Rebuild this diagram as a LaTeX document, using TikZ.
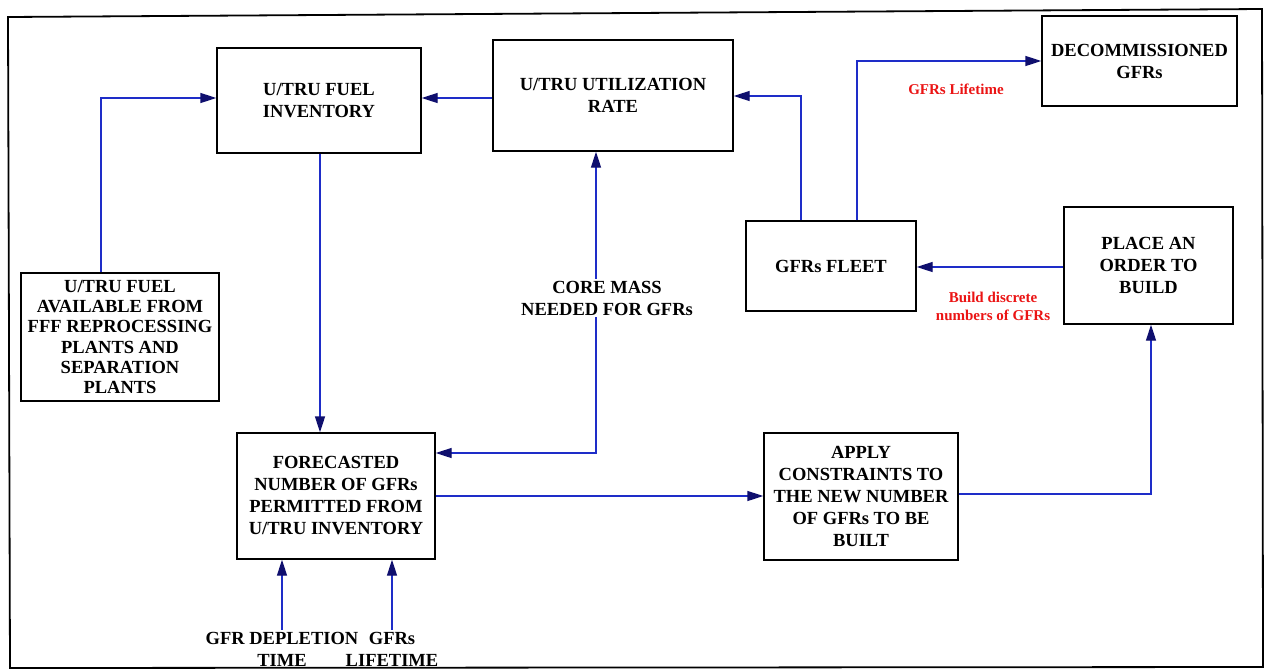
\documentclass[tikz,border=0pt]{standalone}
\usepackage{fontspec}
\setmainfont{Liberation Serif}
\usetikzlibrary{arrows.meta,calc}
\definecolor{lineblue}{RGB}{30,45,200}
\definecolor{headnavy}{RGB}{15,15,110}
\definecolor{lblred}{RGB}{235,20,20}
\begin{document}
\begin{tikzpicture}[x=1pt,y=-1pt,
  box/.style={draw=black,line width=1.4pt,fill=white,inner sep=2pt,align=center,
    font=\bfseries\fontsize{18.5}{22}\selectfont},
  lbl/.style={inner sep=2pt,align=center,font=\bfseries\fontsize{18.5}{22}\selectfont},
  redlbl/.style={inner sep=1pt,align=center,text=lblred,font=\bfseries\fontsize{15}{18}\selectfont},
  arr/.style={draw=lineblue,line width=1.4pt,-{Triangle[length=16pt,width=10pt,color=headnavy]}},
  ln/.style={draw=lineblue,line width=1.4pt}]
\useasboundingbox (0,0) rectangle (1265,670);
\fill[white] (0,0) rectangle (1265,670);
% outer frame (slightly skewed like the scan)
\draw[line width=1.8pt,black] (8,17) -- (1262,9) -- (1263,667) -- (10,668) -- cycle;

% boxes
\node[box,minimum width=204pt,minimum height=105pt] (inv) at (319,100.5) {U/TRU FUEL\\INVENTORY};
\node[box,minimum width=240pt,minimum height=111pt] (util) at (613,95.5) {U/TRU UTILIZATION\\RATE};
\node[box,minimum width=195pt,minimum height=90pt] (decom) at (1139.5,61) {DECOMMISSIONED\\GFRs};
\node[box,minimum width=170pt,minimum height=90pt] (fleet) at (831,266) {GFRs FLEET};
\node[box,minimum width=169pt,minimum height=117pt] (place) at (1148.5,265.5) {PLACE AN\\ORDER TO\\BUILD};
\node[box,minimum width=198pt,minimum height=128pt,font=\bfseries\fontsize{18.5}{20.3}\selectfont] (avail) at (120,337)
  {U/TRU FUEL\\AVAILABLE FROM\\FFF REPROCESSING\\PLANTS AND\\SEPARATION\\PLANTS};
\node[box,minimum width=198pt,minimum height=126pt] (fore) at (336,496)
  {FORECASTED\\NUMBER OF GFRs\\PERMITTED FROM\\U/TRU INVENTORY};
\node[box,minimum width=194pt,minimum height=127pt] (apply) at (861,496.5)
  {APPLY\\CONSTRAINTS TO\\THE NEW NUMBER\\OF GFRs TO BE\\BUILT};

% free labels
\node[lbl] (core) at (607,298) {CORE MASS\\NEEDED FOR GFRs};
\node[lbl] (depl) at (282,649) {GFR DEPLETION\\TIME};
\node[lbl] (life) at (392,649) {GFRs\\LIFETIME};
\node[redlbl] (lifet) at (956,89) {GFRs Lifetime};
\node[redlbl] (build) at (993,306) {Build discrete\\numbers of GFRs};
\coordinate (cmx) at (596,0);

% connectors
\draw[arr] ([xshift=-19pt]avail.north) |- ([yshift=2.5pt]inv.west);
\draw[arr] ([yshift=-2.5pt]util.west) -- ([yshift=-2.5pt]util.west -| inv.east);
\draw[arr] ([xshift=1pt]inv.south) -- ([xshift=1pt]inv.south |- fore.north);
\draw[arr] (core.north -| cmx) -- (util.south -| cmx);
\draw[arr] (core.south -| cmx) |- ([yshift=43pt]fore.east);
\draw[arr] ([xshift=-30pt]fleet.north) |- ([yshift=-0.5pt]util.east);
\draw[arr] ([xshift=26pt]fleet.north) |- (decom.west);
\draw[arr] ([yshift=-1.5pt]place.west) -- ([yshift=-1.5pt]place.west -| fleet.east);
\draw[arr] (fore.east) -- (fore.east -| apply.west);
\draw[arr] ([yshift=2.5pt]apply.east) -| ([xshift=2.5pt]place.south);
\draw[arr] (depl.north) -- (depl.north |- fore.south);
\draw[arr] (life.north) -- (life.north |- fore.south);
\end{tikzpicture}
\end{document}
